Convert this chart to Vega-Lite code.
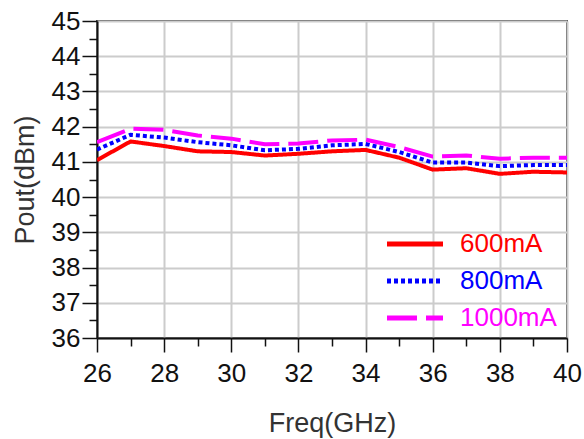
{
  "$schema": "https://vega.github.io/schema/vega-lite/v6.json",
  "width": 470,
  "height": 317,
  "autosize": "none",
  "padding": {"left": 97, "top": 21, "right": 17, "bottom": 101},
  "background": "white",
  "config": {
    "font": "Liberation Sans",
    "view": {"stroke": "#404040", "strokeWidth": 2}
  },
  "data": {
    "values": [
      {"f": 26, "s": "600mA", "p": 41.05}, {"f": 27, "s": "600mA", "p": 41.58}, {"f": 28, "s": "600mA", "p": 41.45},
      {"f": 29, "s": "600mA", "p": 41.30}, {"f": 30, "s": "600mA", "p": 41.28}, {"f": 31, "s": "600mA", "p": 41.18},
      {"f": 32, "s": "600mA", "p": 41.23}, {"f": 33, "s": "600mA", "p": 41.30}, {"f": 34, "s": "600mA", "p": 41.34},
      {"f": 35, "s": "600mA", "p": 41.12}, {"f": 36, "s": "600mA", "p": 40.78}, {"f": 37, "s": "600mA", "p": 40.82},
      {"f": 38, "s": "600mA", "p": 40.66}, {"f": 39, "s": "600mA", "p": 40.72}, {"f": 40, "s": "600mA", "p": 40.70},
      {"f": 26, "s": "800mA", "p": 41.35}, {"f": 27, "s": "800mA", "p": 41.77}, {"f": 28, "s": "800mA", "p": 41.69},
      {"f": 29, "s": "800mA", "p": 41.56}, {"f": 30, "s": "800mA", "p": 41.47}, {"f": 31, "s": "800mA", "p": 41.33},
      {"f": 32, "s": "800mA", "p": 41.37}, {"f": 33, "s": "800mA", "p": 41.47}, {"f": 34, "s": "800mA", "p": 41.51},
      {"f": 35, "s": "800mA", "p": 41.28}, {"f": 36, "s": "800mA", "p": 40.98}, {"f": 37, "s": "800mA", "p": 40.98},
      {"f": 38, "s": "800mA", "p": 40.88}, {"f": 39, "s": "800mA", "p": 40.91}, {"f": 40, "s": "800mA", "p": 40.91},
      {"f": 26, "s": "1000mA", "p": 41.56}, {"f": 27, "s": "1000mA", "p": 41.94}, {"f": 28, "s": "1000mA", "p": 41.91},
      {"f": 29, "s": "1000mA", "p": 41.75}, {"f": 30, "s": "1000mA", "p": 41.66}, {"f": 31, "s": "1000mA", "p": 41.50},
      {"f": 32, "s": "1000mA", "p": 41.52}, {"f": 33, "s": "1000mA", "p": 41.61}, {"f": 34, "s": "1000mA", "p": 41.63},
      {"f": 35, "s": "1000mA", "p": 41.42}, {"f": 36, "s": "1000mA", "p": 41.15}, {"f": 37, "s": "1000mA", "p": 41.18},
      {"f": 38, "s": "1000mA", "p": 41.09}, {"f": 39, "s": "1000mA", "p": 41.12}, {"f": 40, "s": "1000mA", "p": 41.12}
    ]
  },
  "mark": {"type": "line", "strokeWidth": 4, "strokeCap": "butt", "clip": true},
  "encoding": {
    "x": {
      "field": "f", "type": "quantitative",
      "scale": {"domain": [26, 40], "nice": false, "zero": false},
      "axis": {
        "title": "Freq(GHz)",
        "values": [26, 27, 28, 29, 30, 31, 32, 33, 34, 35, 36, 37, 38, 39, 40],
        "labelExpr": "datum.value % 2 === 0 ? format(datum.value, 'd') : ''",
        "labelFontSize": 26, "labelColor": "#111111", "labelPadding": 8, "labelFlush": false, "labelOverlap": false,
        "tickSize": {"condition": {"test": "datum.value % 2 === 0", "value": 14}, "value": 8},
        "tickColor": "#111111", "tickWidth": 1.5,
        "domainColor": "#111111", "domainWidth": 2,
        "grid": true,
        "gridColor": {"condition": {"test": "datum.value % 2 === 0", "value": "#cccccc"}, "value": "transparent"},
        "gridWidth": 2,
        "titleFontSize": 27, "titleFontWeight": "normal", "titleColor": "#333333",
        "titleBaseline": "alphabetic", "titleY": 93
      }
    },
    "y": {
      "field": "p", "type": "quantitative",
      "scale": {"domain": [36, 45], "nice": false, "zero": false},
      "axis": {
        "title": "Pout(dBm)",
        "values": [36, 36.5, 37, 37.5, 38, 38.5, 39, 39.5, 40, 40.5, 41, 41.5, 42, 42.5, 43, 43.5, 44, 44.5, 45],
        "labelExpr": "datum.value % 1 === 0 ? format(datum.value, 'd') : ''",
        "labelFontSize": 26, "labelColor": "#111111", "labelPadding": 2, "labelFlush": false, "labelOverlap": false,
        "tickSize": {"condition": {"test": "datum.value % 1 === 0", "value": 15}, "value": 8},
        "tickColor": "#111111", "tickWidth": 1.5,
        "domainColor": "#111111", "domainWidth": 2,
        "grid": true,
        "gridColor": {"condition": {"test": "datum.value % 1 === 0", "value": "#cccccc"}, "value": "transparent"},
        "gridWidth": 2,
        "titleFontSize": 27, "titleFontWeight": "normal", "titleColor": "#333333",
        "titleBaseline": "alphabetic", "titleX": -64, "titleY": 158.5, "titleAngle": -90, "titleAlign": "center"
      }
    },
    "color": {
      "field": "s", "type": "nominal",
      "scale": {"domain": ["600mA", "800mA", "1000mA"], "range": ["#ff0000", "#0000ff", "#ff00ff"]},
      "legend": {
        "title": null,
        "orient": "none",
        "legendX": 284,
        "legendY": 210,
        "padding": 0,
        "symbolType": "M-1,0H7",
        "symbolSize": 196,
        "symbolStrokeWidth": 5,
        "labelFontSize": 26,
        "labelOffset": 53,
        "rowPadding": 11,
        "encode": {
          "labels": {
            "update": {
              "fill": {"signal": "datum.value === '600mA' ? '#ff0000' : datum.value === '800mA' ? '#0000ff' : '#ff00ff'"}
            }
          }
        }
      }
    },
    "strokeDash": {
      "field": "s", "type": "nominal",
      "scale": {"domain": ["600mA", "800mA", "1000mA"], "range": [[1, 0], [4, 3], [30, 9]]},
      "legend": null
    }
  }
}
